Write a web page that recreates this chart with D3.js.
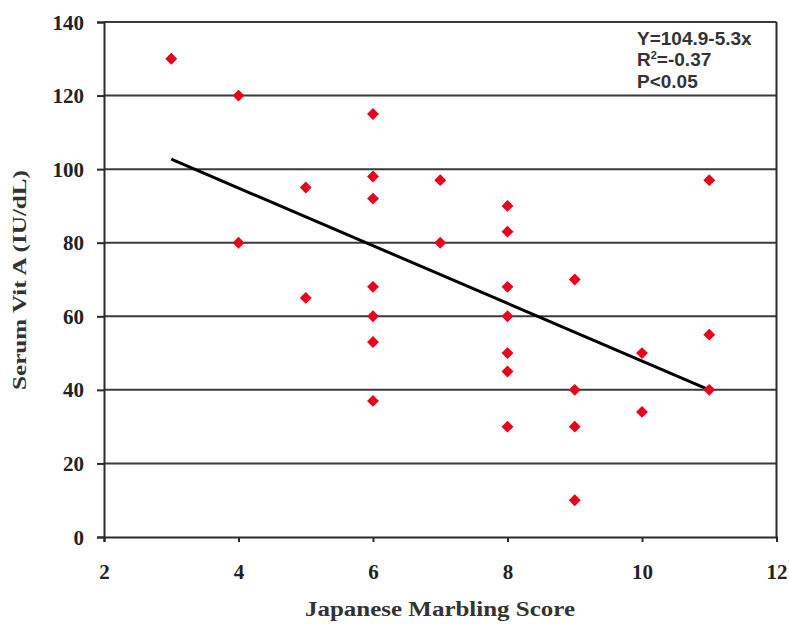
<!DOCTYPE html>
<html><head><meta charset="utf-8">
<script src="https://cdn.jsdelivr.net/npm/d3@7"></script>
<style>body{margin:0;background:#fff}svg{display:block}</style>
</head><body>
<script>
const marblingScore = [3,4,4,5,5,6,6,6,6,6,6,6,7,7,8,8,8,8,8,8,8,9,9,9,9,10,10,11,11,11];
const serumVitA   = [130,120,80,95,65,115,98,92,68,60,53,37,97,80,90,83,68,60,50,45,30,70,40,30,10,50,34,97,55,40];
const trendX = [3, 11];
const trendY = [102.7, 40];
const xTicks = [2,4,6,8,10,12];
const yTicks = [0,20,40,60,80,100,120,140];
const annotation = ["Y=104.9-5.3x", "R2=-0.37", "P<0.05"];

const W = 790, H = 624;
const m = {left:104, right:790-776.5, top:22, bottom:624-537};
const svg = d3.select("body").append("svg").attr("width", W).attr("height", H);
const x = d3.scaleLinear().domain([2,12]).range([m.left, W-m.right]);
const y = d3.scaleLinear().domain([0,140]).range([H-m.bottom, m.top]);

// gridlines
svg.append("g").selectAll("line").data(yTicks.filter(d=>d>0)).join("line")
  .attr("x1", x(2)).attr("x2", x(12)).attr("y1", d=>y(d)).attr("y2", d=>y(d))
  .attr("stroke", "#3a3a3a").attr("stroke-width", 2);
// right border
svg.append("line").attr("x1", x(12)).attr("x2", x(12)).attr("y1", y(0)).attr("y2", y(140))
  .attr("stroke", "#2a2a2a").attr("stroke-width", 2);

const fontSerif = "'Liberation Serif','Times New Roman',serif";
const yAxis = svg.append("g").attr("transform", `translate(${x(2)},0)`)
  .call(d3.axisLeft(y).tickValues(yTicks).tickSize(7).tickPadding(13));
const xAxis = svg.append("g").attr("transform", `translate(0,${y(0)})`)
  .call(d3.axisBottom(x).tickValues(xTicks).tickSize(5).tickPadding(22));
[yAxis, xAxis].forEach(g=>{
  g.select(".domain").attr("stroke", "#2a2a2a").attr("stroke-width", 2);
  g.selectAll(".tick line").attr("stroke", "#2a2a2a").attr("stroke-width", 2);
  g.selectAll("text").attr("font-family", fontSerif).attr("font-weight", "bold")
    .attr("font-size", 21).attr("fill", "#222");
});
yAxis.selectAll("text").attr("dy", "0.34em");

// trend line
svg.append("line").attr("x1", x(trendX[0])).attr("y1", y(trendY[0]))
  .attr("x2", x(trendX[1])).attr("y2", y(trendY[1]))
  .attr("stroke", "#000").attr("stroke-width", 3);

// points
const diamond = d3.symbol().type(d3.symbolDiamond2).size(90);
svg.append("g").selectAll("path").data(marblingScore.map((d,i)=>[d, serumVitA[i]])).join("path")
  .attr("d", diamond).attr("transform", d=>`translate(${x(d[0])},${y(d[1])})`)
  .attr("fill", "#e8001c");

// axis titles
svg.append("text").attr("x", 305).attr("y", 616)
  .attr("textLength", 270).attr("lengthAdjust", "spacingAndGlyphs")
  .attr("font-family", fontSerif).attr("font-weight", "bold").attr("font-size", 20).attr("fill", "#333")
  .text("Japanese Marbling Score");
svg.append("text").attr("transform", `translate(26,390) rotate(-90)`)
  .attr("textLength", 220).attr("lengthAdjust", "spacingAndGlyphs")
  .attr("font-family", fontSerif).attr("font-weight", "bold").attr("font-size", 19).attr("fill", "#333")
  .text("Serum Vit A (IU/dL)");

// annotation
const ann = svg.append("text").attr("font-family", "'Liberation Sans',Arial,sans-serif")
  .attr("font-weight", "bold").attr("font-size", 19).attr("fill", "#333");
ann.append("tspan").attr("x", 637).attr("y", 45).text(annotation[0]);
const t2 = ann.append("tspan").attr("x", 637).attr("y", 66);
t2.append("tspan").text("R");
t2.append("tspan").attr("dy", -7).attr("font-size", 11).text("2");
t2.append("tspan").attr("dy", 7).text("=-0.37");
ann.append("tspan").attr("x", 637).attr("y", 88).text(annotation[2]);
</script>
</body></html>
